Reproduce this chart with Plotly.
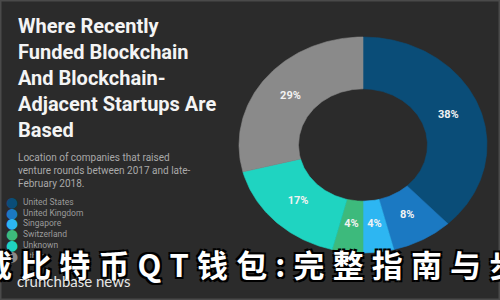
import numpy as np
import plotly.graph_objects as go

# ---- data ----
countries = ["United States", "United Kingdom", "Singapore", "Switzerland", "Unknown", "Other"]
shares = [38, 8, 4, 4, 17, 29]
colors = ["#0a4d78", "#1b79c2", "#2db6f2", "#3dba7c", "#1fd4c1", "#8a8a8a"]

title_lines = ["Where Recently", "Funded Blockchain", "And Blockchain-", "Adjacent Startups Are", "Based"]
subtitle_lines = ["Location of companies that raised", "venture rounds between 2017 and late-", "February 2018."]
overlay_chars = ["载", "比", "特", "币", "Q", "T", "钱", "包", ":", "完", "整", "指", "南", "与", "步"]
brand = "crunchbase news"

BG = "#2b2b2b"

# donut geometry (the source picture is horizontally stretched -> elliptical ring)
CX, CY = 363, 300 - 145
RX, RY = 124, 108
HOLE = 0.52
LABEL_R = 0.74

fig = go.Figure()
total = float(sum(shares))
start = 0.0
lab_x, lab_y, lab_t = [], [], []
for name, val, col in zip(countries, shares, colors):
    frac = val / total
    a0, a1 = start * 2 * np.pi, (start + frac) * 2 * np.pi
    n = max(8, int(frac * 400))
    t = np.linspace(a0, a1, n)
    ox = CX + RX * np.sin(t)
    oy = CY + RY * np.cos(t)
    ix = CX + RX * HOLE * np.sin(t[::-1])
    iy = CY + RY * HOLE * np.cos(t[::-1])
    xs = np.concatenate([ox, ix, ox[:1]])
    ys = np.concatenate([oy, iy, oy[:1]])
    fig.add_trace(go.Scatter(
        x=xs, y=ys, mode="lines", fill="toself", fillcolor=col,
        line=dict(color=col, width=0.6), name=name, showlegend=False,
        hoverinfo="name",
    ))
    am = (a0 + a1) / 2
    lab_x.append(CX + RX * LABEL_R * np.sin(am))
    lab_y.append(CY + RY * LABEL_R * np.cos(am))
    lab_t.append(f"{round(frac * 100)}%")
    start += frac

fig.add_trace(go.Scatter(
    x=lab_x, y=lab_y, mode="text", text=lab_t, showlegend=False, hoverinfo="skip",
    textfont=dict(family="Roboto", size=11, color="#f2f2f2", weight="bold"),
))

annotations = []
annotations.append(dict(
    x=16, y=300 - 12, xref="x", yref="y", xanchor="left", yanchor="top",
    text="<br>".join(title_lines), showarrow=False, align="left",
    font=dict(family="Roboto", size=20, color="#f4f4f4", weight="bold"),
))
annotations.append(dict(
    x=16, y=300 - 150, xref="x", yref="y", xanchor="left", yanchor="top",
    text="<br>".join(subtitle_lines), showarrow=False, align="left",
    font=dict(family="Roboto", size=10, color="#a9a9a9"),
))
# custom legend
for i, (name, col) in enumerate(zip(countries, colors)):
    yc = 300 - (202 + i * 10.7)
    annotations.append(dict(
        x=12, y=yc, xref="x", yref="y", xanchor="center", yanchor="middle",
        text="●", showarrow=False,
        font=dict(family="DejaVu Sans", size=14, color=col),
    ))
    annotations.append(dict(
        x=21, y=yc, xref="x", yref="y", xanchor="left", yanchor="middle",
        text=name, showarrow=False,
        font=dict(family="Roboto", size=8.5, color="#9a9a9a"),
    ))
# overlay chinese text (spaced out)
spacer = "\u2009\u200a"
annotations.append(dict(
    x=250, y=300 - 263, xref="x", yref="y", xanchor="center", yanchor="middle",
    text=spacer.join(overlay_chars), showarrow=False,
    font=dict(family="Noto Sans CJK SC", size=31, color="#ffffff", weight="bold",
              shadow="2px 2px 0 #000, -2px -2px 0 #000, 2px -2px 0 #000, -2px 2px 0 #000"),
))
annotations.append(dict(
    x=15, y=300 - 281, xref="x", yref="y", xanchor="left", yanchor="middle",
    text=brand, showarrow=False,
    font=dict(family="Lato", size=15, color="#e6e6e6"),
))

fig.update_layout(
    width=500, height=300,
    margin=dict(l=0, r=0, t=0, b=0),
    paper_bgcolor=BG, plot_bgcolor=BG,
    xaxis=dict(range=[0, 500], visible=False, fixedrange=True),
    yaxis=dict(range=[0, 300], visible=False, fixedrange=True),
    annotations=annotations,
    shapes=[dict(type="rect", xref="paper", yref="paper", x0=0, y0=0, x1=1, y1=1,
                 line=dict(color="#4a4a4a", width=3), fillcolor="rgba(0,0,0,0)")],
)

fig.write_html("out.html")
